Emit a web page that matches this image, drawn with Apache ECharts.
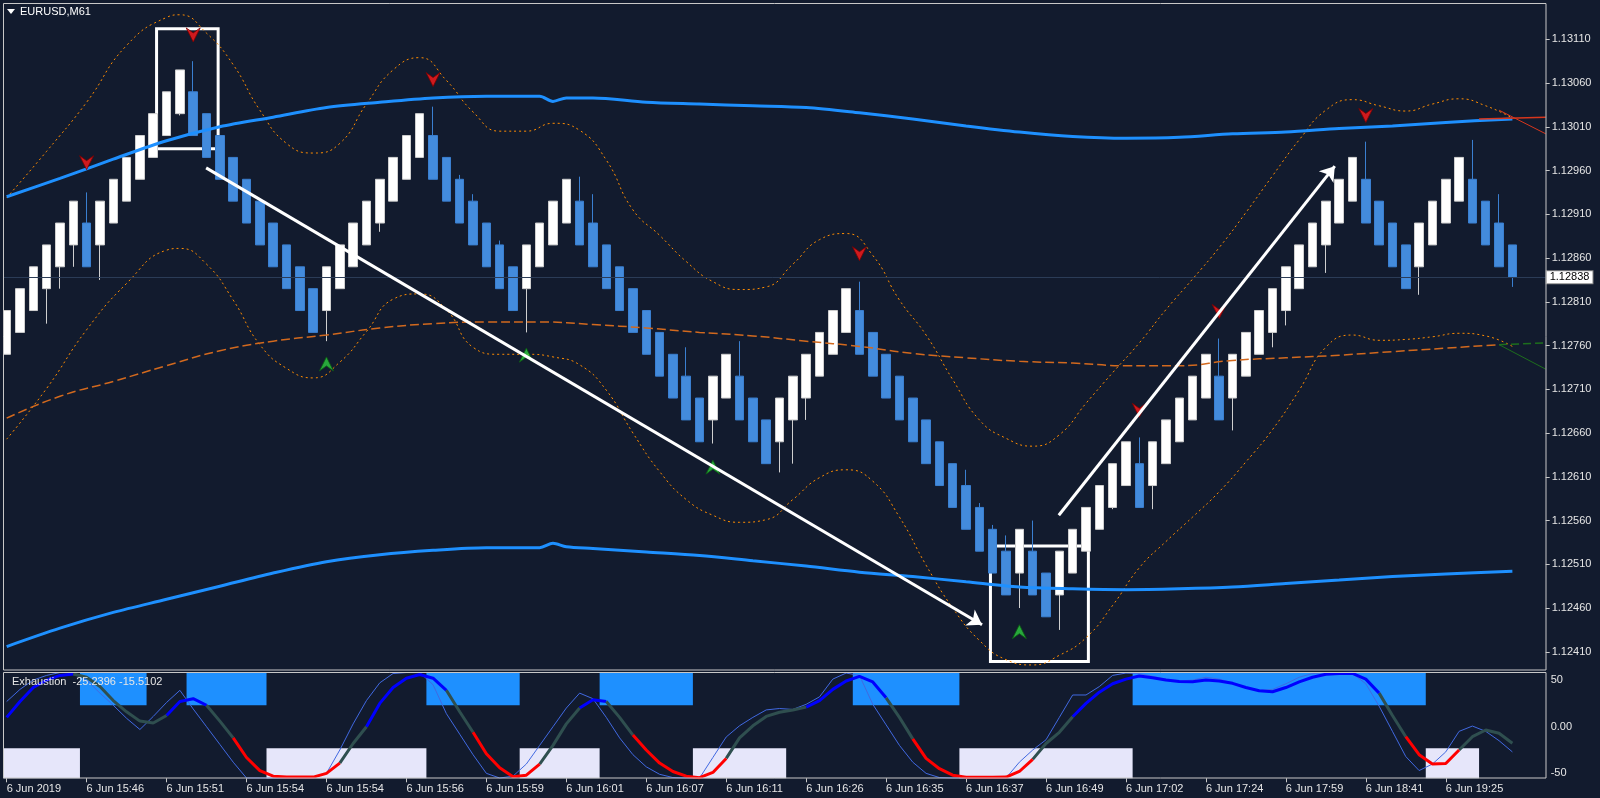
<!DOCTYPE html>
<html>
<head>
<meta charset="utf-8">
<title>EURUSD,M61</title>
<script src="https://cdn.jsdelivr.net/npm/echarts@6/dist/echarts.min.js"></script>
<style>
html, body { margin: 0; padding: 0; background: #121b2e; }
#chart { width: 1600px; height: 798px; }
</style>
</head>
<body>
<div id="chart"></div>
<script>
// ---- data ----
const timeLabels = ['6 Jun 2019', '6 Jun 15:46', '6 Jun 15:51', '6 Jun 15:54', '6 Jun 15:54', '6 Jun 15:56',
  '6 Jun 15:59', '6 Jun 16:01', '6 Jun 16:07', '6 Jun 16:11', '6 Jun 16:26', '6 Jun 16:35', '6 Jun 16:37',
  '6 Jun 16:49', '6 Jun 17:02', '6 Jun 17:24', '6 Jun 17:59', '6 Jun 18:41', '6 Jun 19:25']
const labelEvery = 6
const barSlots = 116

const priceTicks = [1.12410, 1.12460, 1.12510, 1.12560, 1.12610, 1.12660, 1.12710, 1.12760,
  1.12810, 1.12860, 1.12910, 1.12960, 1.13010, 1.13060, 1.13110]
const exhTicks = [50, 0, -50]

const barOpen = [
  1.12750, 1.12775, 1.12800, 1.12825, 1.12850, 1.12875, 1.12900, 1.12875, 1.12900, 1.12925,
  1.12950, 1.12975, 1.13000, 1.13025, 1.13050, 1.13025, 1.13000, 1.12975, 1.12950, 1.12925,
  1.12900, 1.12875, 1.12850, 1.12825, 1.12800, 1.12825, 1.12850, 1.12875, 1.12900, 1.12925,
  1.12950, 1.12975, 1.13000, 1.12975, 1.12950, 1.12925, 1.12900, 1.12875, 1.12850, 1.12825,
  1.12850, 1.12875, 1.12900, 1.12925, 1.12900, 1.12875, 1.12850, 1.12825, 1.12800, 1.12775,
  1.12750, 1.12725, 1.12700, 1.12675, 1.12700, 1.12725, 1.12700, 1.12675, 1.12650, 1.12675,
  1.12700, 1.12725, 1.12750, 1.12775, 1.12800, 1.12775, 1.12750, 1.12725, 1.12700, 1.12675,
  1.12650, 1.12625, 1.12600, 1.12575, 1.12550, 1.12525, 1.12500, 1.12525, 1.12500, 1.12475,
  1.12500, 1.12525, 1.12550, 1.12575, 1.12600, 1.12625, 1.12600, 1.12625, 1.12650, 1.12675,
  1.12700, 1.12725, 1.12700, 1.12725, 1.12750, 1.12775, 1.12800, 1.12825, 1.12850, 1.12875,
  1.12900, 1.12925, 1.12950, 1.12925, 1.12900, 1.12875, 1.12850, 1.12875, 1.12900, 1.12925,
  1.12950, 1.12925, 1.12900, 1.12875]
const barClose = [
  1.12800, 1.12825, 1.12850, 1.12875, 1.12900, 1.12925, 1.12850, 1.12925, 1.12950, 1.12975,
  1.13000, 1.13025, 1.13050, 1.13075, 1.13000, 1.12975, 1.12950, 1.12925, 1.12900, 1.12875,
  1.12850, 1.12825, 1.12800, 1.12775, 1.12850, 1.12875, 1.12900, 1.12925, 1.12950, 1.12975,
  1.13000, 1.13025, 1.12950, 1.12925, 1.12900, 1.12875, 1.12850, 1.12825, 1.12800, 1.12875,
  1.12900, 1.12925, 1.12950, 1.12875, 1.12850, 1.12825, 1.12800, 1.12775, 1.12750, 1.12725,
  1.12700, 1.12675, 1.12650, 1.12725, 1.12750, 1.12675, 1.12650, 1.12625, 1.12700, 1.12725,
  1.12750, 1.12775, 1.12800, 1.12825, 1.12750, 1.12725, 1.12700, 1.12675, 1.12650, 1.12625,
  1.12600, 1.12575, 1.12550, 1.12525, 1.12500, 1.12475, 1.12550, 1.12475, 1.12450, 1.12525,
  1.12550, 1.12575, 1.12600, 1.12625, 1.12650, 1.12575, 1.12650, 1.12675, 1.12700, 1.12725,
  1.12750, 1.12675, 1.12750, 1.12775, 1.12800, 1.12825, 1.12850, 1.12875, 1.12900, 1.12925,
  1.12950, 1.12975, 1.12900, 1.12875, 1.12850, 1.12825, 1.12900, 1.12925, 1.12950, 1.12975,
  1.12900, 1.12875, 1.12850, 1.12838]
const barLow = [
  1.12750, 1.12775, 1.12800, 1.12785, 1.12825, 1.12850, 1.12850, 1.12835, 1.12900, 1.12925,
  1.12950, 1.12975, 1.13000, 1.13023, 1.13000, 1.12975, 1.12950, 1.12925, 1.12900, 1.12875,
  1.12850, 1.12825, 1.12800, 1.12775, 1.12765, 1.12825, 1.12850, 1.12875, 1.12890, 1.12925,
  1.12950, 1.12975, 1.12950, 1.12925, 1.12900, 1.12875, 1.12850, 1.12825, 1.12800, 1.12775,
  1.12850, 1.12875, 1.12900, 1.12875, 1.12850, 1.12825, 1.12800, 1.12775, 1.12750, 1.12725,
  1.12700, 1.12675, 1.12650, 1.12648, 1.12700, 1.12675, 1.12650, 1.12625, 1.12615, 1.12625,
  1.12675, 1.12725, 1.12750, 1.12775, 1.12750, 1.12725, 1.12700, 1.12675, 1.12650, 1.12625,
  1.12600, 1.12575, 1.12550, 1.12525, 1.12500, 1.12475, 1.12460, 1.12475, 1.12450, 1.12435,
  1.12500, 1.12525, 1.12550, 1.12573, 1.12600, 1.12575, 1.12573, 1.12625, 1.12650, 1.12675,
  1.12700, 1.12675, 1.12663, 1.12725, 1.12750, 1.12758, 1.12783, 1.12825, 1.12850, 1.12843,
  1.12900, 1.12925, 1.12900, 1.12875, 1.12850, 1.12825, 1.12818, 1.12875, 1.12900, 1.12925,
  1.12900, 1.12875, 1.12850, 1.12827]
const barHigh = [
  1.12800, 1.12825, 1.12850, 1.12875, 1.12900, 1.12925, 1.12935, 1.12925, 1.12950, 1.12975,
  1.13000, 1.13025, 1.13050, 1.13075, 1.13085, 1.13025, 1.13000, 1.12975, 1.12950, 1.12925,
  1.12900, 1.12875, 1.12850, 1.12825, 1.12850, 1.12875, 1.12900, 1.12925, 1.12950, 1.12975,
  1.13000, 1.13025, 1.13033, 1.12975, 1.12955, 1.12933, 1.12900, 1.12880, 1.12850, 1.12875,
  1.12900, 1.12925, 1.12950, 1.12953, 1.12933, 1.12875, 1.12850, 1.12825, 1.12800, 1.12775,
  1.12750, 1.12758, 1.12700, 1.12725, 1.12750, 1.12765, 1.12700, 1.12675, 1.12700, 1.12725,
  1.12750, 1.12775, 1.12800, 1.12825, 1.12833, 1.12775, 1.12750, 1.12725, 1.12700, 1.12675,
  1.12650, 1.12625, 1.12618, 1.12580, 1.12555, 1.12543, 1.12550, 1.12560, 1.12500, 1.12525,
  1.12550, 1.12575, 1.12600, 1.12625, 1.12650, 1.12655, 1.12650, 1.12675, 1.12700, 1.12725,
  1.12750, 1.12768, 1.12750, 1.12775, 1.12800, 1.12825, 1.12850, 1.12875, 1.12900, 1.12925,
  1.12950, 1.12975, 1.12993, 1.12925, 1.12900, 1.12875, 1.12900, 1.12925, 1.12950, 1.12975,
  1.12995, 1.12925, 1.12933, 1.12875]

// overlay lines: [bar, price]
const maUpper = [[0, 1.12930], [4, 1.12951], [8, 1.12973], [12, 1.12994], [16, 1.13010], [20, 1.13021],
  [24, 1.13032], [28, 1.13038], [32, 1.13043], [36, 1.13045], [40, 1.13045], [41, 1.13039], [42, 1.13043],
  [44, 1.13043], [48, 1.13038], [52, 1.13036], [56, 1.13034], [60, 1.13032], [64, 1.13026], [68, 1.13019],
  [72, 1.13011], [76, 1.13004], [80, 1.12999], [84, 1.12997], [88, 1.12998], [92, 1.13002], [96, 1.13004],
  [100, 1.13008], [104, 1.13011], [108, 1.13015], [113, 1.13019]]
const maLower = [[0, 1.12416], [4, 1.12437], [8, 1.12455], [12, 1.12470], [16, 1.12485], [20, 1.12500],
  [24, 1.12513], [28, 1.12521], [32, 1.12526], [36, 1.12529], [40, 1.12529], [41, 1.12534], [42, 1.12530],
  [44, 1.12528], [48, 1.12524], [52, 1.12520], [56, 1.12514], [60, 1.12508], [64, 1.12501], [68, 1.12496],
  [72, 1.12490], [76, 1.12484], [80, 1.12482], [84, 1.12481], [88, 1.12482], [92, 1.12484], [96, 1.12488],
  [100, 1.12492], [104, 1.12496], [108, 1.12499], [113, 1.12502]]
const midLine = [[0, 1.12677], [4, 1.12702], [8, 1.12719], [12, 1.12737], [16, 1.12754], [20, 1.12765],
  [24, 1.12772], [28, 1.12780], [32, 1.12785], [36, 1.12787], [40, 1.12787], [44, 1.12784], [48, 1.12780],
  [52, 1.12775], [56, 1.12771], [60, 1.12765], [64, 1.12759], [68, 1.12751], [72, 1.12746], [76, 1.12742],
  [80, 1.12740], [84, 1.12737], [88, 1.12737], [92, 1.12743], [96, 1.12746], [100, 1.12749], [104, 1.12753],
  [108, 1.12757], [112, 1.12761]]
const bandUpper = [[0, 1.12929], [3, 1.12982], [6, 1.13038], [9, 1.13103], [12, 1.13135], [13, 1.13138],
  [15, 1.13117], [17, 1.13081], [19, 1.13029], [21, 1.12991], [23, 1.12980], [25, 1.12991], [27, 1.13036],
  [29, 1.13075], [31, 1.13089], [33, 1.13063], [35, 1.13027], [37, 1.13005], [39, 1.13005], [41, 1.13014],
  [43, 1.13006], [45, 1.12972], [47, 1.12915], [49, 1.12886], [51, 1.12856], [53, 1.12833], [55, 1.12824],
  [57, 1.12827], [59, 1.12853], [61, 1.12881], [63, 1.12888], [65, 1.12863], [67, 1.12812], [69, 1.12772],
  [71, 1.12721], [73, 1.12675], [75, 1.12654], [77, 1.12645], [79, 1.12658], [81, 1.12694], [83, 1.12729],
  [85, 1.12763], [87, 1.12801], [89, 1.12836], [91, 1.12872], [93, 1.12912], [95, 1.12954], [97, 1.12995],
  [99, 1.13029], [101, 1.13041], [103, 1.13034], [105, 1.13028], [107, 1.13036], [109, 1.13042], [111, 1.13034],
  [113, 1.13020]]
const bandLower = [[0, 1.12653], [3, 1.12711], [6, 1.12778], [9, 1.12831], [12, 1.12869], [13, 1.12871],
  [15, 1.12853], [17, 1.12812], [19, 1.12761], [21, 1.12734], [23, 1.12723], [25, 1.12741], [27, 1.12776],
  [29, 1.12813], [31, 1.12819], [33, 1.12801], [35, 1.12758], [37, 1.12750], [39, 1.12750], [41, 1.12747],
  [43, 1.12738], [45, 1.12709], [47, 1.12660], [49, 1.12616], [51, 1.12584], [53, 1.12566], [55, 1.12558],
  [57, 1.12561], [59, 1.12584], [61, 1.12609], [63, 1.12618], [65, 1.12605], [67, 1.12564], [69, 1.12509],
  [71, 1.12460], [73, 1.12423], [75, 1.12401], [77, 1.12395], [79, 1.12406], [81, 1.12426], [83, 1.12463],
  [85, 1.12506], [87, 1.12536], [89, 1.12564], [91, 1.12593], [93, 1.12627], [95, 1.12664], [97, 1.12709],
  [99, 1.12758], [101, 1.12772], [103, 1.12766], [105, 1.12767], [107, 1.12770], [109, 1.12774], [111, 1.12771],
  [113, 1.12759]]
const redRay = [[112, 1.13029], [115.5, 1.13002]]
const redLevel = [[110.5, 1.13019], [115.5, 1.13021]]
const greenLevel = [[112, 1.12761], [115.5, 1.12763]]
const greenRay = [[112, 1.12761], [115.5, 1.12733]]

const sellArrows = [[14, 1.13115], [6, 1.12969], [32, 1.13064], [64, 1.12865], [85, 1.12686], [91, 1.12799], [102, 1.13023]]
const buyArrows = [[24, 1.12739], [39, 1.12749], [53, 1.12621], [76, 1.12433]]

const drawnArrowFrom = [[14.97, 1.12963], [78.96, 1.12566]]
const drawnArrowTo = [[73.2, 1.12441], [99.67, 1.12965]]
const drawnBoxes = [[[11.25, 1.13122], [15.87, 1.12985]], [[73.83, 1.12531], [81.18, 1.12399]]]

// Exhaustion sub-window
const exhMain = [
  10, 27, 42, 50, 55, 56.5, 53, 43, 28, 16,
  6, 4, 12, 27, 30, 23, 6, -12, -33, -47,
  -53, -54, -54, -54, -50, -39, -18, 0, 25, 42,
  52, 56, 52, 39, 16, -6, -29, -44, -53.6, -52,
  -40, -20, 3, 20, 29, 27, 10, -9, -25, -39,
  -48, -53, -54.6, -49, -34, -12, 1, 11, 15.5, 18,
  21, 28, 40, 49, 54, 48, 31, 10, -13, -34,
  -45, -52, -54.2, -54.2, -54.2, -54, -48, -35, -18, -6,
  10.7, 25, 37, 46, 51, 54.3, 52.5, 50, 48.5, 48.2,
  50, 49, 46.5, 42, 38.5, 37.5, 42, 48, 53, 56.2,
  57, 57.2, 51, 36, 12, -10.7, -30, -40, -39.5, -25,
  -10.7, -3.5, -7, -17.8]
const exhFast = [
  27, 40, 50, 55, 58, 58, 50, 36, 23, 9,
  -3, 11, 26, 39, 19, 0, -19, -38, -55, -55,
  -55, -55, -55, -55, -50, -25, 3, 28, 47, 57,
  58, 58, 45, 14, -8, -30, -50, -55, -53, -40,
  -20, 0, 20, 36, 30, 10, -12, -30, -43, -51,
  -54.5, -55, -55, -33, -11, 1, 10, 18, 19.5, 18.5,
  24, 32, 51, 57.5, 55, 24, 2, -20, -38, -50,
  -54.5, -55, -55, -55, -55, -55, -38, -25, -14, 10,
  34, 34, 43, 55, 57.5, 57, 54, 51, 49, 50,
  53, 51, 47, 42, 39, 40, 46, 53, 57, 58,
  58, 57, 46, 22, -5, -32, -47, -40, -27, -5,
  0.7, -5, -15, -27]
// colour of each segment ending at that bar: u = up, n = neutral, d = down
const exhTrend = 'uuuuuu' + 'nnnnnnn' + 'uuu' + 'nn' + 'dddddddd' + 'nn' + 'uuuuuu' + 'nn' + 'ddddd' + 'nnn' +
  'uu' + 'nn' + 'ddddddd' + 'nnnnnn' + 'uuuuuu' + 'nn' + 'ddddddddd' + 'nnn' + 'uuuuuuuuuuuuuuuuuuuuuuu' +
  'nn' + 'dddd' + 'nnnn'
// 1 = overbought block, -1 = oversold block, 0 = none
const exhZone = [
  -1, -1, -1, -1, -1, -1, 1, 1, 1, 1,
  1, 0, 0, 0, 1, 1, 1, 1, 1, 1,
  -1, -1, -1, -1, -1, -1, -1, -1, -1, -1,
  -1, -1, 1, 1, 1, 1, 1, 1, 1, -1,
  -1, -1, -1, -1, -1, 1, 1, 1, 1, 1,
  1, 1, -1, -1, -1, -1, -1, -1, -1, 0,
  0, 0, 0, 0, 1, 1, 1, 1, 1, 1,
  1, 1, -1, -1, -1, -1, -1, -1, -1, -1,
  -1, -1, -1, -1, -1, 1, 1, 1, 1, 1,
  1, 1, 1, 1, 1, 1, 1, 1, 1, 1,
  1, 1, 1, 1, 1, 1, 1, -1, -1, -1,
  -1, 0, 0, 0]
const exhUpperLevel = 23
const exhLowerLevel = -23

// ---- chart ----
const bg = '#121b2e'
const font = 'Liberation Sans'
const priceMin = 1.123892
const priceMax = 1.131509
const exhMin = -55.3
const exhMax = 58.1

const categories = Array.from({ length: barSlots }, (_, i) => String(i))
const candles = barOpen.map((o, i) => [o, barClose[i], barLow[i], barHigh[i]])
const lastClose = barClose[barClose.length - 1]

// merge neighbouring bars of the same zone into one block: [first, last, zone]
const zoneRuns = []
exhZone.forEach((z, i) => {
  const last = zoneRuns[zoneRuns.length - 1]
  if (last && last[2] === z) last[1] = i
  else zoneRuns.push([i, i, z])
})

function overlay (data, color, width, type, smooth) {
  return {
    type: 'line', xAxisIndex: 2, yAxisIndex: 0, data, symbol: 'none', smooth,
    z: 3, silent: true,
    lineStyle: { color, width, type }
  }
}

const trendColor = { u: '#0000ff', n: '#2f4f4f', d: '#ff0000' }
const trendSeries = Object.keys(trendColor).map(s => {
  const data = exhMain.map(() => null)
  for (let i = 1; i < exhMain.length; i++) {
    if (exhTrend[i] === s) { data[i - 1] = exhMain[i - 1]; data[i] = exhMain[i] }
  }
  return {
    type: 'line', xAxisIndex: 1, yAxisIndex: 1, data, symbol: 'none', z: 4, silent: true,
    lineStyle: { color: trendColor[s], width: 3 }
  }
})

const tickShown = i => i % labelEvery === 0 && i / labelEvery < timeLabels.length

const chart = echarts.init(document.getElementById('chart'))
const option = {
  backgroundColor: bg,
  animation: false,
  grid: [
    { left: -2.3, top: 3.5, width: 1548, height: 666.5 },
    { left: -2.3, top: 672.5, width: 1548, height: 105.8 }
  ],
  xAxis: [
    { type: 'category', gridIndex: 0, data: categories, boundaryGap: true, show: false },
    {
      type: 'category', gridIndex: 1, data: categories, boundaryGap: true, position: 'bottom',
      axisLine: { show: false, onZero: false },
      axisTick: { show: true, alignWithLabel: true, length: 4, interval: tickShown, lineStyle: { color: '#c8c8c8' } },
      axisLabel: {
        interval: tickShown,
        formatter: (v, i) => timeLabels[i / labelEvery] || '',
        align: 'left', margin: 5, color: '#e6e6e6', fontSize: 11, fontFamily: font
      }
    },
    { type: 'value', gridIndex: 0, min: -0.5, max: barSlots - 0.5, show: false, axisLine: { onZero: false } }
  ],
  yAxis: [
    {
      type: 'value', gridIndex: 0, position: 'right', min: priceMin, max: priceMax,
      axisLine: { show: false, onZero: false }, splitLine: { show: false },
      axisTick: { show: true, customValues: priceTicks, length: 4, lineStyle: { color: '#c8c8c8' } },
      axisLabel: {
        customValues: priceTicks, formatter: v => v.toFixed(5), margin: 6,
        color: '#e6e6e6', fontSize: 11, fontFamily: font
      }
    },
    {
      type: 'value', gridIndex: 1, position: 'right', min: exhMin, max: exhMax,
      axisLine: { show: false, onZero: false }, splitLine: { show: false }, axisTick: { show: false },
      axisLabel: {
        customValues: exhTicks, formatter: v => (v === 0 ? '0.00' : String(v)), margin: 5,
        color: '#e6e6e6', fontSize: 11, fontFamily: font
      }
    }
  ],
  series: [
    {
      // current price line, behind the bars
      type: 'line', xAxisIndex: 0, yAxisIndex: 0, data: [], z: 1, silent: true,
      markLine: {
        symbol: 'none', silent: true, precision: 5,
        lineStyle: { color: '#2b3c57', width: 1, type: 'solid' },
        label: {
          position: 'end', distance: 1, formatter: p => Number(p.value).toFixed(5),
          backgroundColor: '#ffffff', color: '#000000', borderColor: '#8a8a8a', borderWidth: 1,
          padding: [1, 3, 0, 3], fontSize: 11, fontFamily: font
        },
        data: [{ yAxis: lastClose }]
      }
    },
    {
      type: 'candlestick', xAxisIndex: 0, yAxisIndex: 0, data: candles, barWidth: 9, z: 2,
      itemStyle: {
        color: '#ffffff', borderColor: '#cfcfcf',
        color0: '#438bdc', borderColor0: '#3a7fd0', borderWidth: 1
      }
    },
    overlay(bandUpper, '#ff8c00', 1, [2, 3], true),
    overlay(bandLower, '#ff8c00', 1, [2, 3], true),
    overlay(midLine, '#d2691e', 1.5, [9, 4], true),
    Object.assign(overlay(maUpper, '#1e90ff', 3, 'solid', 0.3), {
      markArea: {
        silent: true, label: { show: false },
        itemStyle: { color: 'rgba(0,0,0,0)', borderColor: '#ffffff', borderWidth: 3 },
        data: drawnBoxes.map(([a, b]) => [{ coord: a }, { coord: b }])
      }
    }),
    overlay(maLower, '#1e90ff', 3, 'solid', 0.3),
    overlay(redRay, '#d8361c', 1, 'solid', false),
    overlay(redLevel, '#d8361c', 1.5, 'solid', false),
    overlay(greenLevel, '#1d6e1d', 1.5, [8, 4], false),
    overlay(greenRay, '#1d6e1d', 1, 'solid', false),
    {
      type: 'scatter', xAxisIndex: 2, yAxisIndex: 0, data: sellArrows, z: 5, silent: true,
      symbol: 'path://M0,0 L7,5 L14,0 L7,14 Z', symbolSize: [14, 14],
      itemStyle: { color: '#ff1a1a', borderColor: '#7a0000', borderWidth: 1 }
    },
    {
      type: 'scatter', xAxisIndex: 2, yAxisIndex: 0, data: buyArrows, z: 5, silent: true,
      symbol: 'path://M7,0 L14,14 L7,9 L0,14 Z', symbolSize: [14, 14],
      itemStyle: { color: '#2ecc40', borderColor: '#0b5e12', borderWidth: 1 }
    },
    {
      type: 'lines', coordinateSystem: 'cartesian2d', xAxisIndex: 2, yAxisIndex: 0, z: 6, silent: true,
      symbol: ['none', 'arrow'], symbolSize: 14,
      lineStyle: { color: '#ffffff', width: 3, opacity: 1, curveness: 0 },
      data: drawnArrowFrom.map((f, i) => ({ coords: [f, drawnArrowTo[i]] }))
    },
    {
      type: 'custom', xAxisIndex: 1, yAxisIndex: 1, z: 2, silent: true,
      data: zoneRuns.filter(r => r[2] !== 0),
      encode: { x: [0, 1], y: 2 },
      renderItem: (params, api) => {
        const z = api.value(2)
        const bw = api.size([1, 0])[0]
        const a = api.coord([api.value(0), z > 0 ? exhMax : exhLowerLevel])
        const b = api.coord([api.value(1), z > 0 ? exhUpperLevel : exhMin])
        return {
          type: 'rect',
          shape: { x: a[0] - bw / 2, y: a[1], width: b[0] - a[0] + bw, height: b[1] - a[1] },
          style: { fill: z > 0 ? '#1e90ff' : '#e6e6fa' }
        }
      }
    },
    {
      type: 'line', xAxisIndex: 1, yAxisIndex: 1, data: exhFast, symbol: 'none', z: 3, silent: true,
      lineStyle: { color: '#4169e1', width: 1 }
    },
    ...trendSeries
  ],
  graphic: [
    { type: 'rect', shape: { x: 0, y: 0, width: 3, height: 798 }, style: { fill: bg }, z: 100 },
    { type: 'rect', shape: { x: 3.5, y: 3.5, width: 1542.5, height: 666.5 }, style: { fill: 'none', stroke: '#c8c8c8', lineWidth: 1 }, z: 101 },
    { type: 'rect', shape: { x: 3.5, y: 672.5, width: 1542.5, height: 105.5 }, style: { fill: 'none', stroke: '#c8c8c8', lineWidth: 1 }, z: 101 },
    { type: 'polygon', shape: { points: [[7, 9], [15, 9], [11, 14]] }, style: { fill: '#ffffff' }, z: 102 },
    { type: 'text', x: 20, y: 12, style: { text: 'EURUSD,M61', fill: '#ffffff', font: '11px "Liberation Sans"', verticalAlign: 'middle' }, z: 102 },
    { type: 'text', x: 12, y: 682, style: { text: 'Exhaustion  -25.2396 -15.5102', fill: '#e6e6e6', font: '11px "Liberation Sans"', verticalAlign: 'middle' }, z: 102 }
  ]
}
chart.setOption(option)
</script>
</body>
</html>
